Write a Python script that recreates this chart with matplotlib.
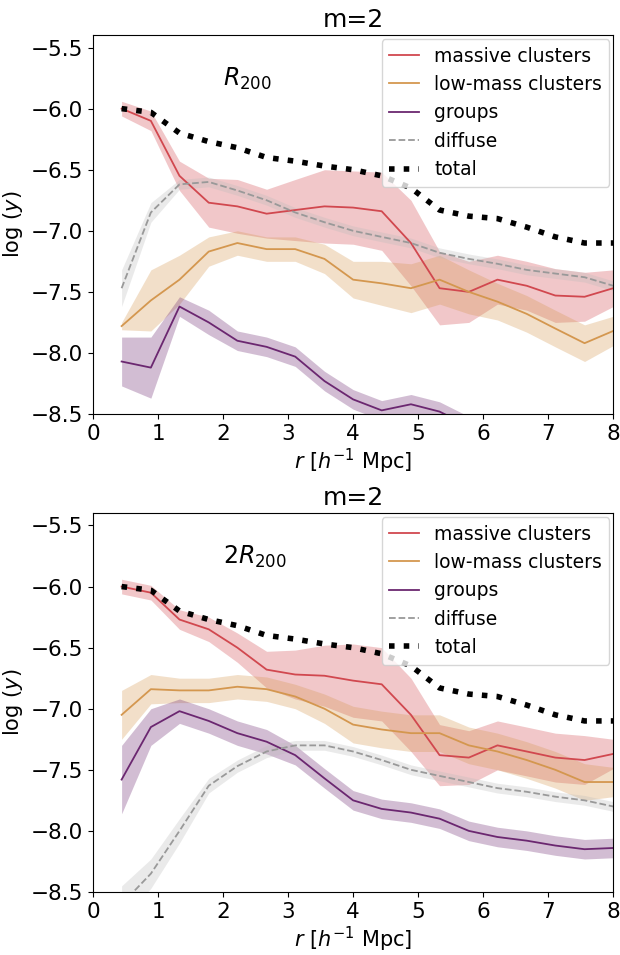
import numpy as np
import matplotlib.pyplot as plt

r = np.array([0.44, 0.89, 1.33, 1.78, 2.22, 2.67, 3.11, 3.56, 4.0,
              4.44, 4.89, 5.33, 5.78, 6.22, 6.67, 7.11, 7.56, 8.0])

# top panel (R200)
top_massive = [-6.0, -6.1, -6.55, -6.77, -6.8, -6.86, -6.83, -6.8, -6.81, -6.84, -7.1, -7.47, -7.5, -7.4, -7.45, -7.53, -7.54, -7.47]
top_massive_err = [0.06, 0.08, 0.12, 0.2, 0.22, 0.2, 0.25, 0.3, 0.3, 0.32, 0.35, 0.3, 0.25, 0.2, 0.2, 0.22, 0.2, 0.15]
top_low = [-7.78, -7.57, -7.4, -7.17, -7.1, -7.15, -7.15, -7.23, -7.4, -7.43, -7.47, -7.4, -7.5, -7.58, -7.68, -7.8, -7.92, -7.82]
top_low_err = [0.03, 0.25, 0.2, 0.12, 0.1, 0.1, 0.1, 0.12, 0.15, 0.18, 0.2, 0.2, 0.18, 0.15, 0.15, 0.15, 0.15, 0.12]
top_groups = [-8.07, -8.12, -7.62, -7.75, -7.9, -7.95, -8.03, -8.23, -8.38, -8.47, -8.42, -8.48, -8.6, -8.7, -8.75, -8.8, -8.85, -8.9]
top_groups_err = [0.2, 0.25, 0.08, 0.1, 0.08, 0.08, 0.08, 0.08, 0.08, 0.08, 0.08, 0.08, 0.08, 0.08, 0.08, 0.08, 0.08, 0.08]
top_diffuse = [-7.47, -6.85, -6.62, -6.6, -6.67, -6.75, -6.85, -6.93, -7.0, -7.05, -7.1, -7.18, -7.23, -7.27, -7.32, -7.35, -7.38, -7.45]
top_diffuse_err = [0.15, 0.08, 0.04, 0.04, 0.04, 0.04, 0.04, 0.04, 0.04, 0.04, 0.04, 0.04, 0.04, 0.04, 0.04, 0.04, 0.04, 0.04]

# bottom panel (2R200)
bot_massive = [-6.0, -6.05, -6.27, -6.35, -6.5, -6.68, -6.72, -6.73, -6.77, -6.8, -7.05, -7.38, -7.4, -7.3, -7.35, -7.4, -7.42, -7.37]
bot_massive_err = [0.06, 0.06, 0.08, 0.1, 0.12, 0.15, 0.2, 0.25, 0.3, 0.3, 0.3, 0.25, 0.22, 0.2, 0.2, 0.2, 0.2, 0.12]
bot_low = [-7.05, -6.84, -6.85, -6.85, -6.82, -6.84, -6.9, -7.0, -7.13, -7.17, -7.2, -7.2, -7.3, -7.35, -7.42, -7.5, -7.6, -7.6]
bot_low_err = [0.2, 0.12, 0.1, 0.1, 0.1, 0.1, 0.1, 0.12, 0.15, 0.15, 0.15, 0.15, 0.15, 0.15, 0.15, 0.15, 0.15, 0.12]
bot_groups = [-7.58, -7.15, -7.02, -7.1, -7.2, -7.27, -7.38, -7.57, -7.75, -7.82, -7.85, -7.9, -8.0, -8.05, -8.08, -8.12, -8.15, -8.14]
bot_groups_err = [0.28, 0.15, 0.1, 0.1, 0.1, 0.1, 0.08, 0.08, 0.08, 0.08, 0.08, 0.08, 0.08, 0.08, 0.08, 0.08, 0.08, 0.08]
bot_diffuse = [-8.6, -8.35, -8.0, -7.63, -7.47, -7.35, -7.3, -7.3, -7.35, -7.42, -7.5, -7.55, -7.6, -7.65, -7.68, -7.72, -7.75, -7.8]
bot_diffuse_err = [0.15, 0.12, 0.1, 0.06, 0.05, 0.05, 0.04, 0.04, 0.04, 0.04, 0.04, 0.04, 0.04, 0.04, 0.04, 0.04, 0.04, 0.04]

total = [-6.0, -6.03, -6.2, -6.27, -6.32, -6.4, -6.43, -6.47, -6.5, -6.55, -6.65, -6.83, -6.88, -6.9, -6.97, -7.05, -7.1, -7.1]

C_MASS = "#d1484f"
C_LOW = "#d4974f"
C_GRP = "#6b2770"
C_DIF = "#999999"

plt.rcParams['font.size'] = 15

fig, axes = plt.subplots(2, 1, figsize=(6.2, 9.55), dpi=100)

panels = [
    (axes[0], r"$R_{200}$", top_massive, top_massive_err, top_low, top_low_err,
     top_groups, top_groups_err, top_diffuse, top_diffuse_err),
    (axes[1], r"$2R_{200}$", bot_massive, bot_massive_err, bot_low, bot_low_err,
     bot_groups, bot_groups_err, bot_diffuse, bot_diffuse_err),
]

for ax, lab, m, me, lo, loe, g, ge, d, de in panels:
    for y, e, c, name, ls in [(m, me, C_MASS, "massive clusters", "-"),
                              (lo, loe, C_LOW, "low-mass clusters", "-"),
                              (g, ge, C_GRP, "groups", "-"),
                              (d, de, C_DIF, "diffuse", "--")]:
        y = np.array(y); e = np.array(e)
        fc = "#bbbbbb" if c == C_DIF else c
        ax.fill_between(r, y - e, y + e, color=fc, alpha=0.3, lw=0)
        ax.plot(r, y, color=c, ls=ls, lw=1.3, label=name)
    ax.plot(r, total, color="black", ls=":", lw=4, label="total")
    ax.set_xlim(0, 8)
    ax.set_ylim(-8.5, -5.4)
    ax.set_yticks([-8.5, -8.0, -7.5, -7.0, -6.5, -6.0, -5.5])
    ax.tick_params(labelsize=15.5)
    ax.set_title("m=2", fontsize=18)
    ax.set_xlabel(r"$r\ [h^{-1}\ \mathrm{Mpc}]$", labelpad=2)
    ax.set_ylabel(r"$\log\,(y)$")
    ax.text(0.25, 0.885, lab, transform=ax.transAxes, fontsize=17, va="center")
    ax.legend(loc="upper right", fontsize=13.5, handlelength=1.6, borderaxespad=0.2)

fig.subplots_adjust(left=0.15, right=0.989, top=0.963, bottom=0.066, hspace=0.262)
fig.savefig("out.png")
